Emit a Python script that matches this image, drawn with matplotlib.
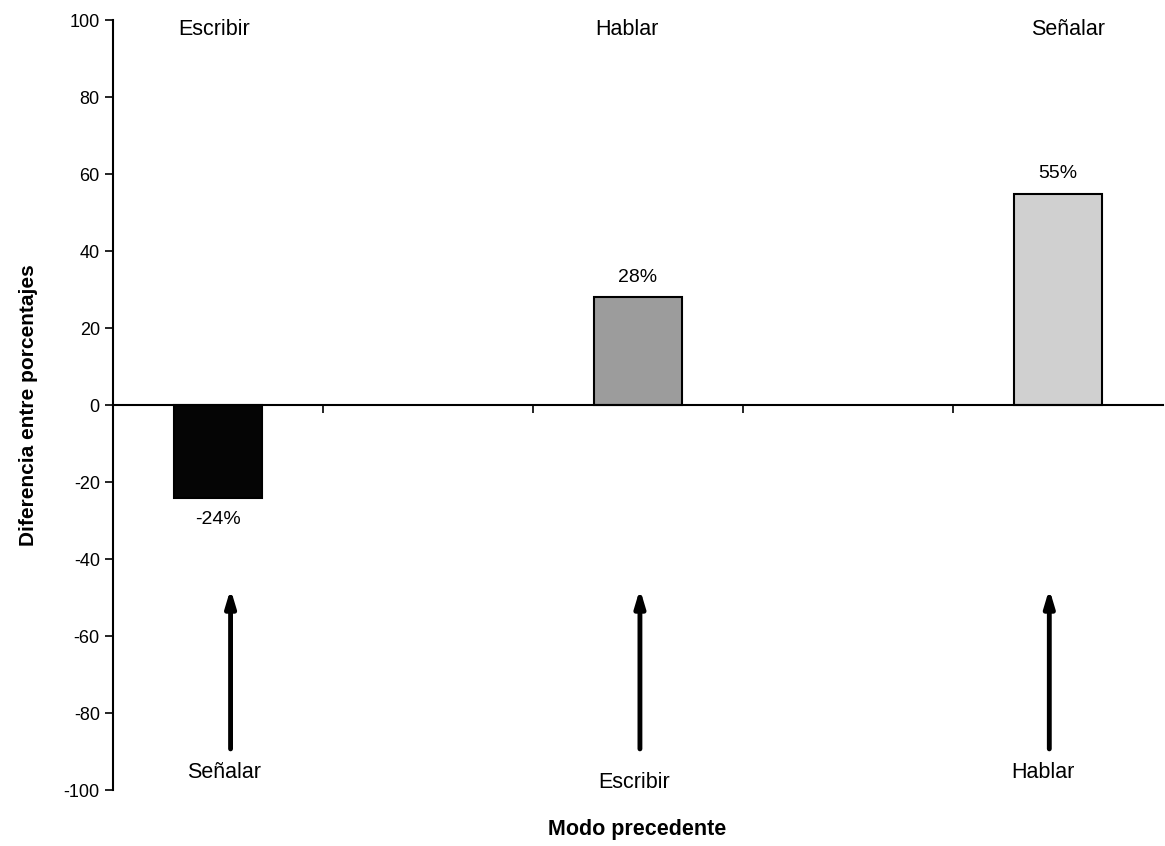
import numpy as np
import matplotlib.pyplot as plt

plt.rcParams['font.family'] = ['Liberation Sans', 'DejaVu Sans']
plt.rcParams['axes.unicode_minus'] = False

# five slots on the x axis, bars only in slots 0, 2 and 4
slots = [0, 2, 4]
diffs = [-24, 28, 55]
bar_colors = ["#050505", "#9c9c9c", "#d0d0d0"]
current_mode = ["Escribir", "Hablar", "Señalar"]
previous_mode = ["Señalar", "Escribir", "Hablar"]

fig = plt.figure(figsize=(11.65, 8.46), dpi=100)
ax = fig.add_axes([0.097, 0.066, 0.901, 0.910])

ax.bar(slots, diffs, width=0.42, color=bar_colors, edgecolor="black",
       linewidth=1.5, zorder=2)

# value labels above/below each bar
for x, v in zip(slots, diffs):
    if v < 0:
        ax.text(x, v - 3.5, f"{v}%", ha="center", va="top", fontsize=14)
    else:
        ax.text(x, v + 3, f"{v}%", ha="center", va="bottom", fontsize=14)

# current mode on top, preceding mode at the bottom with an arrow
top_dx = [-0.02, -0.05, 0.05]
for x, dx, name in zip(slots, top_dx, current_mode):
    ax.text(x + dx, 97.5, name, ha="center", va="center", fontsize=15.5)

arrow_dx = [0.06, 0.01, -0.04]
label_y = [-95.3, -98, -95.5]
for x, dx, ly, name in zip(slots, arrow_dx, label_y, previous_mode):
    ax.annotate("", xy=(x + dx, -47), xytext=(x + dx, -90),
                arrowprops=dict(arrowstyle="-|>,head_width=0.3,head_length=1.0",
                                color="black", lw=3.5))
    ax.text(x + dx - 0.03, ly, name, ha="center", va="center", fontsize=15.5)

ax.set_xlim(-0.5, 4.5)
ax.set_ylim(-100, 100)
ax.set_yticks(np.arange(-100, 101, 20))
ax.tick_params(axis="y", labelsize=13, length=6, width=1.2, direction="out")

# horizontal axis drawn through zero, ticks on the slot boundaries
ax.spines["bottom"].set_position(("data", 0))
ax.spines["bottom"].set_linewidth(1.5)
ax.spines["left"].set_linewidth(1.5)
ax.spines["top"].set_visible(False)
ax.spines["right"].set_visible(False)
ax.set_xticks(np.arange(0.5, 4.5, 1.0))
ax.set_xticklabels([])
ax.tick_params(axis="x", length=6, width=1.2, direction="out")

ax.set_ylabel("Diferencia entre porcentajes", fontsize=15, fontweight="bold")
ax.yaxis.set_label_coords(-0.071, 0.5)
fig.text(0.547, 0.019, "Modo precedente", ha="center", va="center",
         fontsize=15.5, fontweight="bold")

fig.savefig("out.png", dpi=100)
